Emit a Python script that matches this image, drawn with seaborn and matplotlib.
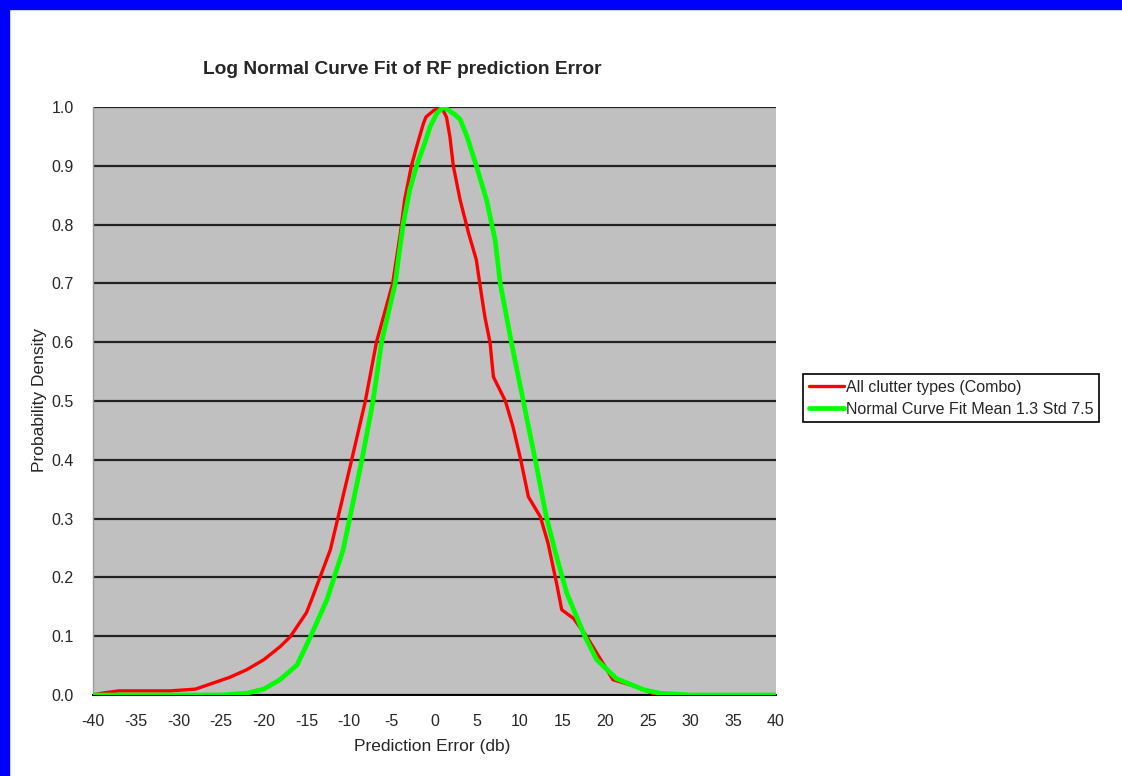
import matplotlib
matplotlib.use("Agg")
import matplotlib.pyplot as plt
import seaborn as sns
import pandas as pd
from matplotlib.patches import Rectangle

# ---- data ----
red_x = [-40, -39, -37, -34, -31, -28, -26, -24, -22, -20, -18.1, -16.9, -15, -14.4,
         -12.2, -9.7, -8.1, -6.8, -4.9, -4.0, -3.5, -2.7, -2.1, -1.3, -1.0, -0.1, 0.8,
         1.4, 1.8, 2.2, 3.0, 4.0, 4.9, 5.3, 5.9, 6.5, 6.9, 8.3, 9.2, 10.1, 11.0, 12.4,
         13.3, 14.3, 14.9, 16.3, 17.8, 19.4, 20.9, 23.7, 25.5, 30, 35, 40]
red_y = [0.0, 0.003, 0.007, 0.007, 0.007, 0.010, 0.020, 0.030, 0.043, 0.060, 0.082,
         0.099, 0.140, 0.162, 0.247, 0.400, 0.500, 0.600, 0.700, 0.785, 0.842, 0.900,
         0.932, 0.972, 0.983, 0.994, 1.000, 0.983, 0.950, 0.900, 0.842, 0.785, 0.740,
         0.700, 0.643, 0.600, 0.541, 0.500, 0.456, 0.400, 0.337, 0.303, 0.258, 0.190,
         0.145, 0.130, 0.100, 0.062, 0.026, 0.014, 0.003, 0.0, 0.0, 0.0]

green_x = [-40, -25, -22, -20, -18.1, -16.1, -14.5, -12.6, -10.7, -8.5, -7.2, -6.2,
           -4.6, -4.2, -3.65, -2.9, -2.1, -1.3, -0.5, 0.3, 1.1, 2.4, 3.0, 3.8, 4.9,
           6.1, 7.1, 7.7, 9.0, 10.4, 11.8, 13.1, 14.3, 15.5, 17.6, 19.0, 21.3, 24.5,
           26.4, 30, 40]
green_y = [0.0, 0.0, 0.003, 0.010, 0.026, 0.051, 0.100, 0.162, 0.247, 0.400, 0.500,
           0.600, 0.700, 0.745, 0.802, 0.859, 0.900, 0.932, 0.967, 0.990, 1.000, 0.987,
           0.979, 0.950, 0.900, 0.842, 0.774, 0.700, 0.600, 0.500, 0.400, 0.303, 0.235,
           0.173, 0.100, 0.060, 0.028, 0.009, 0.003, 0.0, 0.0]

red_label = "All clutter types (Combo)"
green_label = "Normal Curve Fit Mean 1.3 Std 7.5"
x_ticks = list(range(-40, 41, 5))
y_ticks = [i / 10 for i in range(11)]
y_tick_labels = [f"{v:.1f}" for v in y_ticks]

title = "Log Normal Curve Fit of RF prediction Error"
x_label = "Prediction Error (db)"
y_label = "Probability Density"

# ---- styling ----
sns.set_style("white", {"axes.facecolor": "#C0C0C0"})
plt.rcParams["font.family"] = ["Liberation Sans", "DejaVu Sans"]

W, H = 1122, 776
fig = plt.figure(figsize=(W / 100, H / 100), dpi=100)
fig.patch.set_facecolor("white")
ax = fig.add_axes([93 / W, 1 - 695 / H, (776 - 93) / W, (695 - 107) / H])

df_red = pd.DataFrame({"x": red_x, "y": red_y})
df_green = pd.DataFrame({"x": green_x, "y": green_y})

sns.lineplot(data=df_red, x="x", y="y", ax=ax, color="#FF0000", lw=2.4,
             label=red_label, sort=False, zorder=3)
sns.lineplot(data=df_green, x="x", y="y", ax=ax, color="#00FF00", lw=3.4,
             label=green_label, sort=False, zorder=4)

ax.set_xlim(-40, 40)
ax.set_ylim(0, 1.0)
ax.set_xticks(x_ticks)
ax.set_xticklabels([str(t) for t in x_ticks])
ax.set_yticks(y_ticks)
ax.set_yticklabels(y_tick_labels)
ax.tick_params(axis="both", direction="out", length=7, width=1.2, color="black",
               labelsize=11.5, pad=7)
ax.yaxis.grid(True, color="#222222", lw=1.6)
ax.set_axisbelow(True)
for side in ["top", "right"]:
    ax.spines[side].set_visible(False)
ax.spines["left"].set_color("#9a9a9a")
ax.spines["left"].set_linewidth(1.0)
ax.spines["bottom"].set_color("black")
ax.spines["bottom"].set_linewidth(1.4)

ax.set_xlabel("")
ax.set_ylabel("")
fig.text(432 / W, 1 - 747 / H, x_label, ha="center", va="center", fontsize=12.5)
fig.text(40 / W, 1 - 400 / H, y_label, ha="center", va="center", rotation=90,
         fontsize=12.5)
fig.text(402 / W, 1 - 70 / H, title, ha="center", va="center", fontsize=13.8,
         fontweight="bold")

ax.get_legend().remove()
handles, labels = ax.get_legend_handles_labels()
leg = fig.legend(handles, labels, loc="upper left",
                 bbox_to_anchor=(803 / W, 1 - 374 / H), frameon=True,
                 fancybox=False, edgecolor="black", facecolor="white",
                 framealpha=1, fontsize=11.5, handlelength=2.2, handletextpad=0.15,
                 borderpad=0.35, labelspacing=0.45, borderaxespad=0)
leg.get_frame().set_linewidth(1.2)

# blue frame (top and left)
fig.patches.append(Rectangle((0, 1 - 9 / H), 1, 9 / H, transform=fig.transFigure,
                             color="#0000FF", zorder=10))
fig.patches.append(Rectangle((0, 0), 9 / W, 1, transform=fig.transFigure,
                             color="#0000FF", zorder=10))

fig.savefig("out.png", dpi=100)
